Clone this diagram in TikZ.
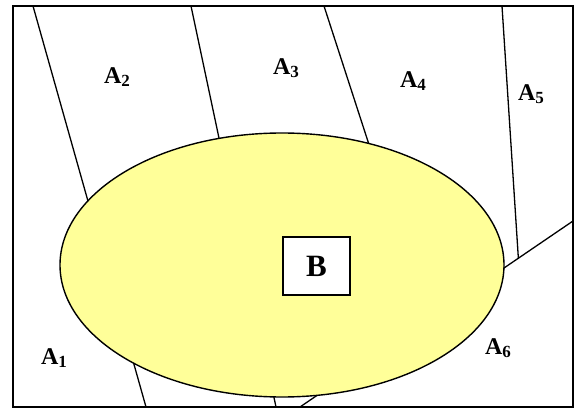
\documentclass[tikz,border=0pt]{standalone}
\usepackage{fontspec}
\setmainfont{Liberation Serif}
\usetikzlibrary{shapes.geometric}
\definecolor{paleyellow}{RGB}{255,255,153}
\newcommand\subidx[1]{\raisebox{-3pt}{\fontsize{17}{17}\selectfont #1}}
\begin{document}
\begin{tikzpicture}[x=1pt,y=-1pt,
  lab/.style={font=\fontsize{24}{26}\selectfont\bfseries, inner sep=0pt},
  border/.style={line width=1.3pt},
  frameline/.style={draw, line width=1.6pt, inner sep=0pt},
  region/.style={ellipse, draw, fill=paleyellow, line width=1.4pt, inner sep=0pt},
  setbox/.style={draw, fill=white, line width=1.4pt, inner sep=0pt,
                 font=\fontsize{31}{33}\selectfont\bfseries}]
\useasboundingbox (0,0) rectangle (579,409);
% outer frame
\node[frameline, minimum width=560pt, minimum height=401pt] (frame) at (293,206.5) {};
% partition lines
\coordinate (t1) at (33,6);   \coordinate (b1) at (146,407);
\coordinate (t2) at (191,6);  \coordinate (b2) at (276,407);
\coordinate (t3) at (324,6);  \coordinate (e3) at (374,160);
\coordinate (t4) at (502,6);
\coordinate (r6) at (573,221); \coordinate (b6) at (300,407);
\coordinate (x46) at (intersection of t4--{(521,300)} and r6--b6);
\draw[border] (t1) -- (b1);
\draw[border] (t2) -- (b2);
\draw[border] (t3) -- (e3);
\draw[border] (r6) -- (b6);
\draw[border] (t4) -- (x46);
% event B region
\node[region, minimum width=444pt, minimum height=264pt] (ell) at (282,265) {};
\node[setbox, minimum width=67pt, minimum height=58pt] (B) at (316.5,266) {B};
% labels
\node[lab] (a1) at (54,358) {A\subidx{1}};
\node[lab] (a2) at (117,77) {A\subidx{2}};
\node[lab] (a3) at (286,68) {A\subidx{3}};
\node[lab] (a4) at (413,81) {A\subidx{4}};
\node[lab] (a5) at (531,94) {A\subidx{5}};
\node[lab] (a6) at (498,348) {A\subidx{6}};
\end{tikzpicture}
\end{document}
